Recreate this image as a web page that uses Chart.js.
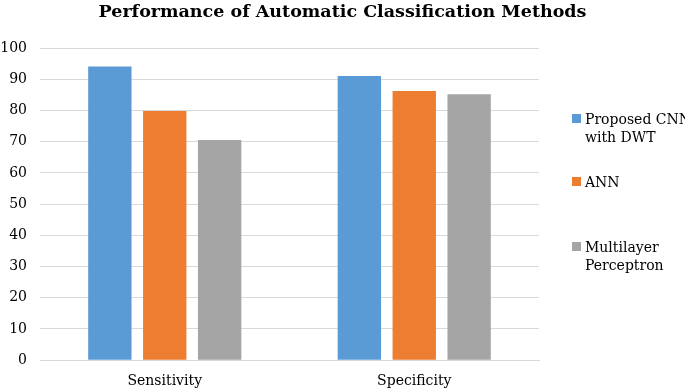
<!DOCTYPE html>
<html>
<head>
<meta charset="utf-8">
<script src="https://cdn.jsdelivr.net/npm/chart.js@4.4.1/dist/chart.umd.min.js"></script>
<style>
  html, body { margin: 0; padding: 0; background: #fff; }
  #wrap { position: relative; width: 685px; height: 388px; }
  #legend { position: absolute; left: 572px; top: 0; font-family: "DejaVu Serif", serif; font-size: 14px; color: #000; }
  .item { position: absolute; left: 0; white-space: nowrap; line-height: 18px; }
  .box { position: absolute; left: 0; top: 4px; width: 9px; height: 9px; }
  .txt { position: absolute; left: 13px; top: 0; }
</style>
</head>
<body>
<div id="wrap">
  <canvas id="chart" width="685" height="388"></canvas>
  <div id="legend"></div>
</div>
<script>
var categories = ["Sensitivity", "Specificity"];
var seriesNames = [["Proposed CNN", "with DWT"], ["ANN"], ["Multilayer", "Perceptron"]];
var cnnValues = [94.1, 91.0];
var annValues = [79.8, 86.2];
var mlpValues = [70.5, 85.2];
var colors = ["#5B9BD5", "#ED7D31", "#A5A5A5"];
var yTicks = [0, 10, 20, 30, 40, 50, 60, 70, 80, 90, 100];

var serif = "DejaVu Serif";
var values = [cnnValues, annValues, mlpValues];

var datasets = values.map(function(v, i) {
    return {
        label: seriesNames[i].join(" "),
        data: v,
        backgroundColor: colors[i],
        categoryPercentage: 0.66,
        barPercentage: 0.79
    };
});

// html legend, multi-line labels like the original
var legendTops = [110, 173, 238];
var legend = document.getElementById("legend");
seriesNames.forEach(function(lines, i) {
    var item = document.createElement("div");
    item.className = "item";
    item.style.top = legendTops[i] + "px";
    item.innerHTML = '<div class="box" style="background:' + colors[i] + '"></div>' +
        '<div class="txt">' + lines.join("<br>") + '</div>';
    legend.appendChild(item);
});

new Chart(document.getElementById("chart").getContext("2d"), {
    type: "bar",
    data: { labels: categories, datasets: datasets },
    options: {
        responsive: false,
        animation: false,
        layout: { padding: { left: 0, right: 0, top: 2, bottom: -7 } },
        plugins: {
            legend: { display: false },
            tooltip: { enabled: false },
            title: {
                display: true,
                text: "Performance of Automatic Classification Methods",
                color: "#000",
                font: { family: serif, size: 17.5, weight: "bold" },
                padding: { top: 0, bottom: 25 }
            }
        },
        scales: {
            x: {
                grid: { display: false },
                border: { color: "#d9d9d9" },
                ticks: { color: "#000", font: { family: serif, size: 14 }, padding: 5 }
            },
            y: {
                min: 0,
                max: 100,
                afterBuildTicks: function(axis) {
                    axis.ticks = yTicks.map(function(t) { return { value: t }; });
                },
                afterFit: function(axis) { axis.width = 40; },
                grid: { color: "#d9d9d9", drawTicks: false },
                border: { display: false },
                ticks: { color: "#000", font: { family: serif, size: 14 }, padding: 13 }
            },
            // empty axis on the right, keeps room for the legend
            side: {
                position: "right",
                afterFit: function(axis) { axis.width = 146; },
                grid: { display: false },
                border: { display: false },
                ticks: { display: false }
            }
        }
    }
});
</script>
</body>
</html>
